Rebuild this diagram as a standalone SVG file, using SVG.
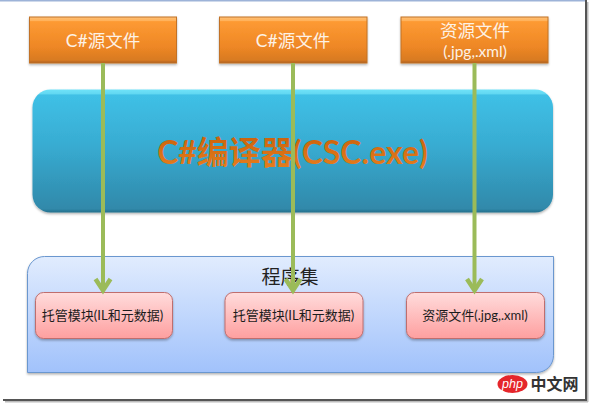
<svg xmlns="http://www.w3.org/2000/svg" width="589" height="403" viewBox="0 0 589 403">
<style>
.t{font-family:"Lato","Noto Sans CJK SC",sans-serif;text-anchor:middle}
.src{fill:url(#org);stroke:#c27226;stroke-width:1;filter:url(#sh)}
.srcT{fill:#fdf2e6;font-size:17.500px}
.mod{fill:url(#pink);stroke:#bf6e6e;stroke-width:1;filter:url(#sh)}
.modT{fill:#1c1c1c;font-size:13px}
.arr{fill:none;stroke:#9bbb59;stroke-width:4;marker-end:url(#ah)}
</style>
<defs>
<linearGradient id="org" x1="0" y1="0" x2="0" y2="1"><stop offset="0" stop-color="#ffc078"/><stop offset=".08" stop-color="#ffb25a"/><stop offset=".1" stop-color="#fd9a33"/><stop offset=".65" stop-color="#ee8725"/><stop offset=".94" stop-color="#d87a22"/><stop offset="1" stop-color="#ab6020"/></linearGradient>
<linearGradient id="blu" x1="0" y1="0" x2="0" y2="1"><stop offset="0" stop-color="#6fe2f8"/><stop offset=".035" stop-color="#62d8f2"/><stop offset=".045" stop-color="#3fc0e6"/><stop offset=".45" stop-color="#38acd2"/><stop offset=".97" stop-color="#3089aa"/><stop offset="1" stop-color="#266f8b"/></linearGradient>
<linearGradient id="con" x1="0" y1="0" x2="0" y2="1"><stop offset="0" stop-color="#e1ecfe"/><stop offset="1" stop-color="#a1c2fb"/></linearGradient>
<linearGradient id="pink" x1="0" y1="0" x2="0" y2="1"><stop offset="0" stop-color="#ffdcdc"/><stop offset="1" stop-color="#fe9f9f"/></linearGradient>
<linearGradient id="ttl" x1="0" y1="0" x2="0" y2="1"><stop offset="0" stop-color="#c75f0a"/><stop offset="1" stop-color="#e8801f"/></linearGradient>
<filter id="sh" x="-10%" y="-15%" width="120%" height="135%"><feDropShadow dx="0" dy="1.500" stdDeviation="1.200" flood-color="#000" flood-opacity=".3"/></filter>
<marker id="ah" markerUnits="userSpaceOnUse" markerWidth="20" markerHeight="20" refX="15" refY="10" orient="auto"><path d="M3 2.500 L14.500 10 L3 17.500" fill="none" stroke="#9bbb59" stroke-width="4.500"/></marker>
</defs>
<rect width="589" height="403" fill="#fff"/>
<g id="frame">
<rect x="0" y="0" width="586" height="1.500" fill="#9db3d8"/>
<rect x="585" y="0" width="2" height="400" fill="#555"/>
<rect x="587" y="2" width="1.500" height="400" fill="#bbb"/>
<rect x="3" y="399" width="584" height="2" fill="#555"/>
<rect x="5" y="401" width="583" height="1.500" fill="#bbb"/>
</g>
<g id="container">
<path d="M44.500 256.500H553.500V355.500A17 17 0 0 1 536.500 372.500H27.500V273.500A17 17 0 0 1 44.500 256.500Z" fill="url(#con)" stroke="#6a97cf" stroke-width="1" filter="url(#sh)"/>
<text class="t" x="290" y="284" font-size="19" fill="#222">程序集</text>
</g>
<g id="compiler">
<rect x="32.500" y="89.500" width="520.500" height="123" rx="18" fill="url(#blu)" filter="url(#sh)"/>
<text class="t" x="292.500" y="164" font-size="32" font-weight="700" fill="url(#ttl)">C#编译器(CSC.exe)</text>
</g>
<g id="src1"><rect class="src" x="29.500" y="17" width="147" height="46"/><text class="t srcT" x="103" y="47">C#源文件</text></g>
<g id="src2"><rect class="src" x="219.500" y="17" width="147.500" height="46"/><text class="t srcT" x="293" y="47">C#源文件</text></g>
<g id="src3"><rect class="src" x="401" y="17" width="147" height="46"/><text class="t srcT" x="475" y="37">资源文件</text><text class="t srcT" x="475" y="57" style="font-size:15.500px">(.jpg,.xml)</text></g>
<g id="mod1"><rect class="mod" x="35.500" y="292.500" width="137" height="46" rx="8"/><text class="t modT" x="102.500" y="320">托管模块(IL和元数据)</text></g>
<g id="mod2"><rect class="mod" x="225" y="292.500" width="138" height="46" rx="8"/><text class="t modT" x="293.500" y="320">托管模块(IL和元数据)</text></g>
<g id="mod3"><rect class="mod" x="406.500" y="292.500" width="138" height="46" rx="8"/><text class="t modT" x="475" y="320">资源文件(.jpg,.xml)</text></g>
<g id="connectors">
<path class="arr" d="M103 63V291"/>
<path class="arr" d="M293 63V291"/>
<path class="arr" d="M474.500 63V291"/>
</g>
<g id="watermark">
<ellipse cx="512.500" cy="384" rx="15" ry="9" fill="#e5262b"/>
<text x="512.500" y="387.500" font-family="'Liberation Sans',sans-serif" font-style="italic" font-size="12.500" text-anchor="middle" fill="#fff">php</text>
<text x="554.500" y="390" font-family="'Noto Sans CJK SC',sans-serif" font-weight="700" font-size="16" text-anchor="middle" fill="#333">中文网</text>
</g>
</svg>
